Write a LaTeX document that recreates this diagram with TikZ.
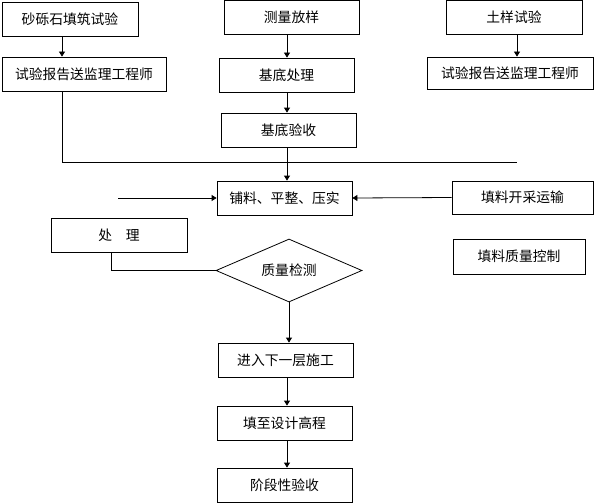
\documentclass[tikz,border=0pt]{standalone}
\usepackage{fontspec}
\setmainfont{Noto Sans CJK SC}
\usetikzlibrary{arrows.meta,positioning,shapes.geometric,calc}

\begin{document}
\begin{tikzpicture}[
        x=1pt, y=-1pt,
        line width=0.8pt,
        box/.style={
          draw,
          minimum width=135pt,
          minimum height=34pt,
          inner sep=0pt,
          align=center,
          font=\fontsize{13.8}{16}\selectfont
        },
        check/.style={
          draw,
          diamond,
          aspect=2.3,
          minimum width=146pt,
          minimum height=63pt,
          inner sep=0pt,
          font=\fontsize{13.8}{16}\selectfont
        },
        arrow/.style={
          -{Triangle[length=5pt,width=6pt]}
        }
      ]

      \useasboundingbox (0,0) rectangle (594,503);

      \node[box, minimum width=136pt] (sand) at (70,19) {砂砾石填筑试验};
      \node[box, minimum width=164pt] (repL) at (84,74) {试验报告送监理工程师};
      \node[box] (survey) at (291.5,17) {测量放样};
      \node[box] (base) at (286.5,75) {基底处理};
      \node[box] (accept) at (288.5,130) {基底验收};
      \node[box, minimum width=136pt] (soil) at (514,17) {土样试验};
      \node[box, minimum width=166pt, minimum height=32pt] (repR) at (510,73) {试验报告送监理工程师};
      \node[box] (spread) at (284.5,198) {铺料、平整、压实};
      \node[box, minimum width=141pt, minimum height=33pt] (mining) at (522.5,197.5) {填料开采运输};
      \node[box, minimum width=136pt] (treat) at (119,235) {处　理};
      \node[box, minimum width=132pt, minimum height=35pt] (quality) at (519,256.5) {填料质量控制};
      \node[check] (test) at (289,270.5) {质量检测};
      \node[box] (next) at (285.5,360) {进入下一层施工};
      \node[box] (fill) at (284.5,423) {填至设计高程};
      \node[box] (stage) at (284.5,485) {阶段性验收};

      \coordinate (joinL) at (62,162);
      \coordinate (joinR) at (517,162);
      \coordinate (feed) at (118,198);

      \draw[arrow] (sand.south -| joinL) -- (repL.north -| joinL);
      \draw[arrow] (soil.south -| joinR) -- (repR.north -| joinR);
      \draw (repL.south -| joinL) -- (joinL) -- (joinR);
      \draw[arrow] (survey.south -| 287,0) -- (base.north -| 287,0);
      \draw[arrow] (base.south -| 287,0) -- (accept.north -| 287,0);
      \draw[arrow] (accept.south -| 287,0) -- (spread.north -| 287,0);
      \draw[arrow] (feed) -- (spread.west);
      \draw[arrow] (mining.west) -- (spread.east);
      \draw (test.west) -| ($(treat.south west)+(61,0)$);
      \draw[arrow] (test.south) -- (next.north -| test.south);
      \draw[arrow] (next.south -| 287,0) -- (fill.north -| 287,0);
      \draw[arrow] (fill.south -| 287,0) -- (stage.north -| 287,0);

      \end{tikzpicture}
\end{document}
